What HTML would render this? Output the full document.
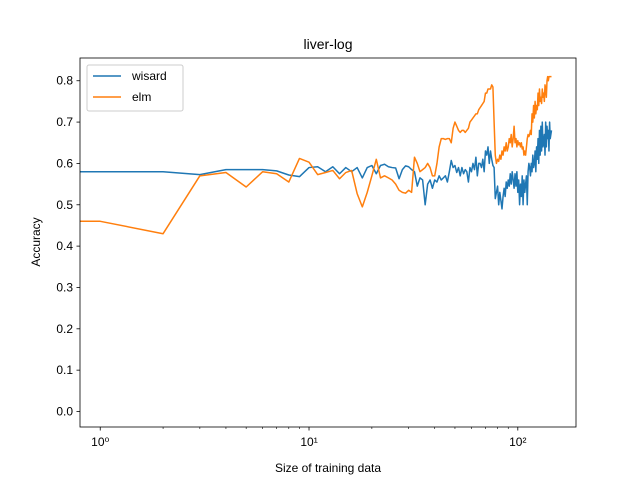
<!DOCTYPE html>
<html><head><meta charset="utf-8"><style>
body{margin:0;background:#fff;}
svg text{font-family:"Liberation Sans","DejaVu Sans",sans-serif;fill:#000;}
</style></head><body>
<svg id="chart" width="640" height="480" xmlns="http://www.w3.org/2000/svg">
<rect width="640" height="480" fill="#fff"/>
<text x="328" y="49" font-size="14" text-anchor="middle">liver-log</text>
<g id="grid"></g>
<g id="plot"></g>
<rect x="80" y="58" width="496" height="369" fill="none" stroke="#000" stroke-width="0.8"/>
<g id="axes"></g>
<text x="328" y="472" font-size="12" text-anchor="middle">Size of training data</text>
<text x="0" y="0" font-size="12" text-anchor="middle" transform="translate(40,242) rotate(-90)">Accuracy</text>
<g>
<rect x="87" y="65" width="96" height="46" rx="2" fill="#fff" stroke="#ccc" stroke-width="1"/>
<line x1="93" y1="76" x2="121" y2="76" stroke="#1f77b4" stroke-width="1.5"/>
<text x="132" y="80" font-size="12">wisard</text>
<line x1="93" y1="97" x2="121" y2="97" stroke="#ff7f0e" stroke-width="1.5"/>
<text x="132" y="101" font-size="12">elm</text>
</g>
</svg>
<script>
const wisard=[0.58,0.58,0.58,0.573,0.585,0.585,0.585,0.582,0.572,0.568,0.59,0.592,0.58,0.592,0.575,0.59,0.58,0.59,0.565,0.59,0.595,0.575,0.595,0.598,0.592,0.59,0.589,0.563,0.585,0.594,0.592,0.585,0.58,0.545,0.565,0.56,0.50,0.55,0.56,0.54,0.56,0.555,0.57,0.56,0.565,0.57,0.555,0.58,0.607,0.59,0.595,0.578,0.59,0.57,0.59,0.575,0.585,0.58,0.555,0.59,0.58,0.60,0.585,0.615,0.57,0.60,0.60,0.59,0.61,0.58,0.63,0.62,0.64,0.60,0.63,0.61,0.595,0.59,0.515,0.53,0.545,0.50,0.53,0.51,0.49,0.52,0.54,0.52,0.555,0.54,0.56,0.545,0.575,0.55,0.58,0.56,0.54,0.575,0.545,0.58,0.53,0.56,0.50,0.55,0.52,0.57,0.50,0.56,0.53,0.55,0.57,0.50,0.58,0.60,0.59,0.57,0.60,0.58,0.62,0.59,0.60,0.63,0.58,0.64,0.61,0.66,0.60,0.68,0.62,0.69,0.63,0.70,0.64,0.65,0.67,0.62,0.70,0.64,0.69,0.66,0.68,0.63,0.70,0.66,0.67,0.68];
const elm=[0.46,0.46,0.43,0.57,0.578,0.543,0.58,0.575,0.555,0.612,0.603,0.573,0.578,0.583,0.563,0.578,0.583,0.527,0.495,0.53,0.57,0.61,0.565,0.57,0.565,0.56,0.55,0.535,0.53,0.528,0.535,0.53,0.615,0.60,0.58,0.585,0.59,0.60,0.59,0.57,0.57,0.60,0.64,0.66,0.66,0.658,0.66,0.66,0.65,0.685,0.70,0.69,0.68,0.675,0.68,0.68,0.675,0.68,0.685,0.70,0.705,0.71,0.715,0.72,0.72,0.73,0.735,0.74,0.745,0.75,0.77,0.77,0.78,0.78,0.78,0.79,0.785,0.70,0.62,0.60,0.61,0.605,0.62,0.61,0.63,0.62,0.64,0.63,0.65,0.63,0.64,0.66,0.65,0.67,0.64,0.66,0.69,0.65,0.66,0.64,0.655,0.645,0.65,0.64,0.65,0.635,0.64,0.62,0.63,0.62,0.64,0.66,0.67,0.665,0.67,0.68,0.67,0.72,0.70,0.74,0.71,0.75,0.72,0.74,0.73,0.77,0.74,0.78,0.75,0.76,0.745,0.78,0.76,0.77,0.75,0.79,0.78,0.76,0.80,0.81,0.80,0.81,0.81,0.81,0.81,0.81];
const xTickLabels=["10⁰","10¹","10²"];
const yTicks=[0.0,0.1,0.2,0.3,0.4,0.5,0.6,0.7,0.8];
const L=80,R=576,T=58,B=427,XMIN=0.8,XMAX=190,YMIN=-0.0375,YMAX=0.855;
const NS="http://www.w3.org/2000/svg";
function xs(v){return L+(Math.log10(v)-Math.log10(XMIN))/(Math.log10(XMAX)-Math.log10(XMIN))*(R-L);}
function ys(v){return B-(v-YMIN)/(YMAX-YMIN)*(B-T);}
function mk(tag,attrs,parent){const e=document.createElementNS(NS,tag);for(const k in attrs)e.setAttribute(k,attrs[k]);parent.appendChild(e);return e;}
const axes=document.getElementById('axes'),plot=document.getElementById('plot');
yTicks.forEach(v=>{const y=ys(v);
 const t=mk('line',{x1:L-3.5,x2:L,y1:y,y2:y,stroke:'#000','stroke-width':0.8},axes);
 
 
 const s=mk('text',{x:L-7,y:y+4,'font-size':12,'text-anchor':'end'},axes);s.textContent=v.toFixed(1);
 
 });
xTickLabels.forEach((lab,i)=>{const x=xs(Math.pow(10,i));
 const t=mk('line',{x1:x,x2:x,y1:B,y2:B+3.5,stroke:'#000','stroke-width':0.8},axes);
 
 
 const s=mk('text',{x:x,y:B+19,'font-size':12,'text-anchor':'middle'},axes);s.textContent=lab;
 
 });
for(let d=0;d<3;d++)for(let m=1;m<10;m++){const v=m*Math.pow(10,d);if(v<XMIN||v>XMAX||m===1)continue;
 const x=xs(v);const t=mk('line',{x1:x,x2:x,y1:B,y2:B+2,stroke:'#000','stroke-width':0.6},axes);
 
 }
const clip=mk('clipPath',{id:'cp'},plot);mk('rect',{x:L,y:T,width:R-L,height:B-T},clip);
function series(arr,color,name){let d='M'+L+','+ys(arr[0]);
 for(let i=1;i<arr.length;i++){d+=' L'+xs(i).toFixed(2)+','+ys(arr[i]).toFixed(2);}
 const p=mk('path',{d:d,fill:'none',stroke:color,'stroke-width':1.5,'stroke-linejoin':'round','clip-path':'url(#cp)'},plot);
 
 }
series(wisard,'#1f77b4','wisard-line');
series(elm,'#ff7f0e','elm-line');
</script>
</body></html>
